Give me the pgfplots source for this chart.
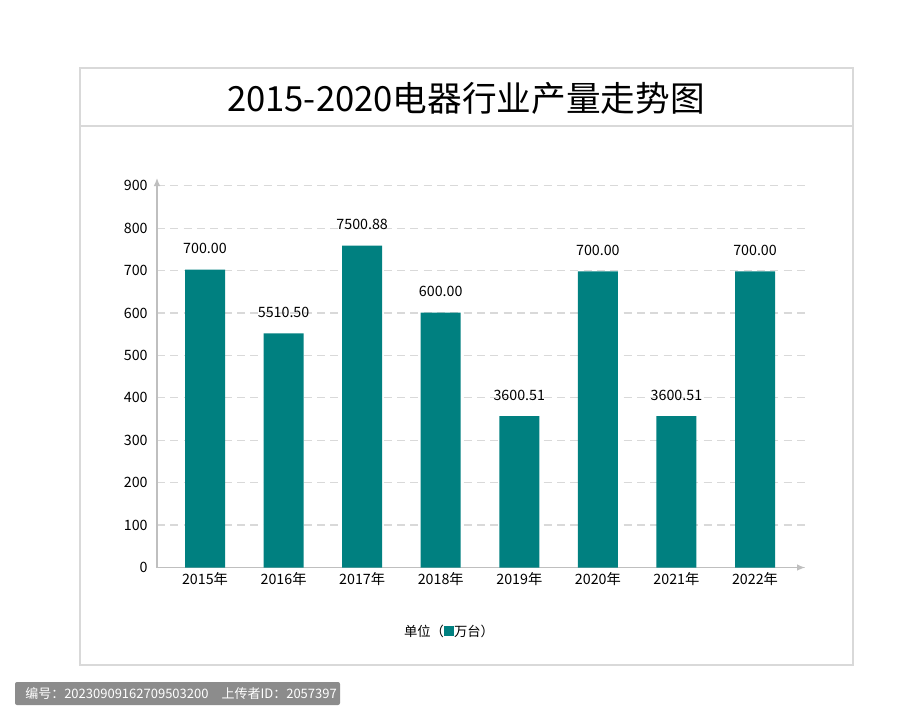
\documentclass[border=0pt]{standalone}
\usepackage{fontspec}
\setmainfont{Noto Sans CJK SC}
\usepackage{pgfplots}
\pgfplotsset{compat=1.18}
\usepackage{pgfplotstable}
\usetikzlibrary{arrows.meta}
\definecolor{barcol}{HTML}{008080}
\definecolor{framecol}{HTML}{D9D9D9}
\definecolor{axcol}{HTML}{BFBFBF}
\definecolor{gridcol}{HTML}{D9D9D9}
\definecolor{stripcol}{HTML}{8C8C8C}
\pgfplotstableread{
x y label
0 702 700.00
1 552 5510.50
2 759 7500.88
3 601 600.00
4 357 3600.51
5 698 700.00
6 357 3600.51
7 698 700.00
}\prodtable
\begin{document}
\begin{tikzpicture}[x=0.75pt,y=0.75pt]
\path[use as bounding box, fill=white] (0,0) rectangle (900,-719);
\draw[framecol, line width=1.2pt] (80,-68) rectangle (853,-665);
\draw[framecol, line width=1.2pt] (80,-126) -- (853,-126);
\node[font=\fontsize{26}{30}\selectfont] at (466,-98) {2015-2020电器行业产量走势图};
\coordinate (axorig) at (157,-567.5);
\begin{axis}[
  at={(axorig)}, anchor=south west,
  scale only axis, width=486pt, height=292.1pt,
  xmin=-0.611, xmax=7.636, ymin=0, ymax=918,
  axis lines=left,
  axis line style={axcol, line width=0.9pt, -{Latex[length=6pt,width=5pt]}},
  xtick={0,...,7},
  xticklabels={2015年,2016年,2017年,2018年,2019年,2020年,2021年,2022年},
  ytick={0,100,...,900},
  major tick length=0pt,
  tick label style={font=\fontsize{10.7}{12}\selectfont, text=black},
  yticklabel style={xshift=-3.5pt},
  /pgf/number format/assume math mode=true,
  ymajorgrids,
  grid style={gridcol, line width=0.9pt, dash pattern=on 6pt off 4pt},
  clip=false,
]
\addplot[ybar, bar width=30pt, fill=barcol, draw=none,
  nodes near coords, point meta=explicit symbolic,
  every node near coord/.append style={font=\fontsize{10.7}{12}\selectfont, text=black, anchor=base, yshift=12pt}]
  table[x=x, y=y, meta=label]{\prodtable};
\end{axis}
\node[font=\fontsize{10}{12}\selectfont] at (449,-631) {单位（\textcolor{barcol}{\rule{7.5pt}{7.5pt}}万台）};
\fill[stripcol, rounded corners=1.5pt] (15,-682) rectangle (340,-705);
\node[anchor=west, text=white, font=\fontsize{9.75}{11}\selectfont, inner sep=0pt] at (25,-693.5) {编号：20230909162709503200\hspace{1em}上传者ID：2057397};
\end{tikzpicture}
\end{document}
